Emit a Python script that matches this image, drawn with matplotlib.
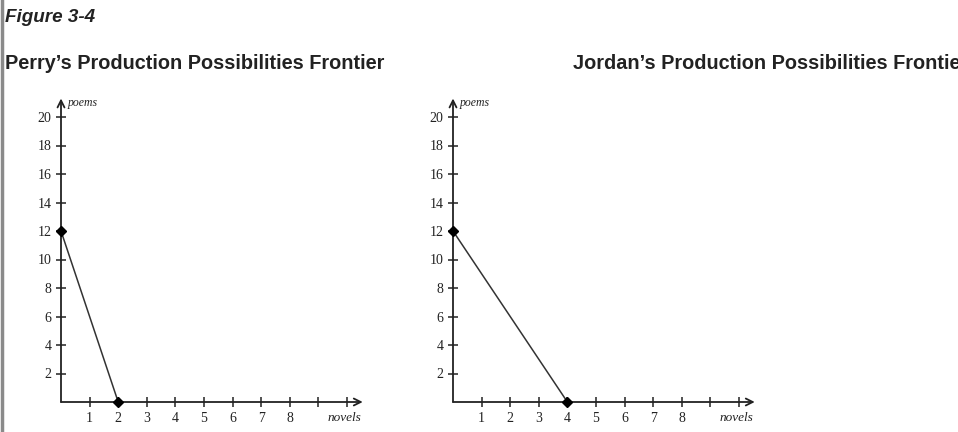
import matplotlib.pyplot as plt
from matplotlib.lines import Line2D

W, H = 958, 432

# frontier end points (novels, poems)
perry_novels = [0, 2]
perry_poems = [12, 0]
jordan_novels = [0, 4]
jordan_poems = [12, 0]

x_ticks = [1, 2, 3, 4, 5, 6, 7, 8, 9, 10]
x_labels = ["1", "2", "3", "4", "5", "6", "7", "8", "", ""]
y_ticks = [2, 4, 6, 8, 10, 12, 14, 16, 18, 20]

INK = "#222222"
SERIF = "Liberation Serif"


def draw_ppf(left_px, novels, poems):
    ux, uy = 28.6, 14.25
    xmax, ymax = 10.9, 21.6
    ax = plt.gcf().add_axes([left_px / W, 30 / H, xmax * ux / W, ymax * uy / H])
    ax.set_xlim(0, xmax)
    ax.set_ylim(0, ymax)
    for s in ax.spines.values():
        s.set_visible(False)
    ax.patch.set_alpha(0)

    # axes with arrow heads
    arrow = dict(arrowstyle="->,head_length=0.5,head_width=0.25",
                 color=INK, lw=1.3, shrinkA=0, shrinkB=0)
    ax.annotate("", xy=(10.55, 0), xytext=(0, 0), arrowprops=arrow,
                annotation_clip=False)
    ax.annotate("", xy=(0, 21.3), xytext=(0, 0), arrowprops=arrow,
                annotation_clip=False)

    ax.set_xticks(x_ticks, x_labels)
    ax.set_yticks(y_ticks)
    ax.tick_params(direction="inout", length=7, width=1.1, color=INK,
                   labelsize=10, labelcolor=INK, labelfontfamily=SERIF)
    ax.tick_params(axis="x", pad=4)
    ax.tick_params(axis="y", pad=3.5)

    ax.plot(novels, poems, color="#333333", lw=1.1, marker="D", ms=5,
            mfc="black", mec="black", clip_on=False, zorder=5)

    ax.text(0.25, 20.95, "poems", fontsize=8.5, style="italic", family=SERIF,
            color=INK, va="center", ha="left")
    ax.text(9.9, -1.15, "novels", fontsize=9.5, style="italic", family=SERIF,
            color=INK, va="center", ha="center")
    return ax


fig = plt.figure(figsize=(W / 100, H / 100), dpi=100)

draw_ppf(61, perry_novels, perry_poems)
draw_ppf(453, jordan_novels, jordan_poems)

fig.text(5 / W, (H - 22) / H, "Figure 3-4", family="Liberation Sans",
         weight="bold", style="italic", fontsize=13.6, color=INK, va="baseline")
fig.text(5 / W, (H - 69) / H, "Perry\u2019s Production Possibilities Frontier",
         family="Liberation Sans", weight="bold", fontsize=14.3, color=INK,
         va="baseline")
# runs past the right edge, as in the source image
fig.text(573 / W, (H - 69) / H, "Jordan\u2019s Production Possibilities Frontier",
         family="Liberation Sans", weight="bold", fontsize=14.3, color=INK,
         va="baseline")

# grey border on the left edge
fig.add_artist(Line2D([1.5 / W, 1.5 / W], [0, 1], color="#8a8a8a", lw=2.5))

fig.savefig("out.png", dpi=100)
